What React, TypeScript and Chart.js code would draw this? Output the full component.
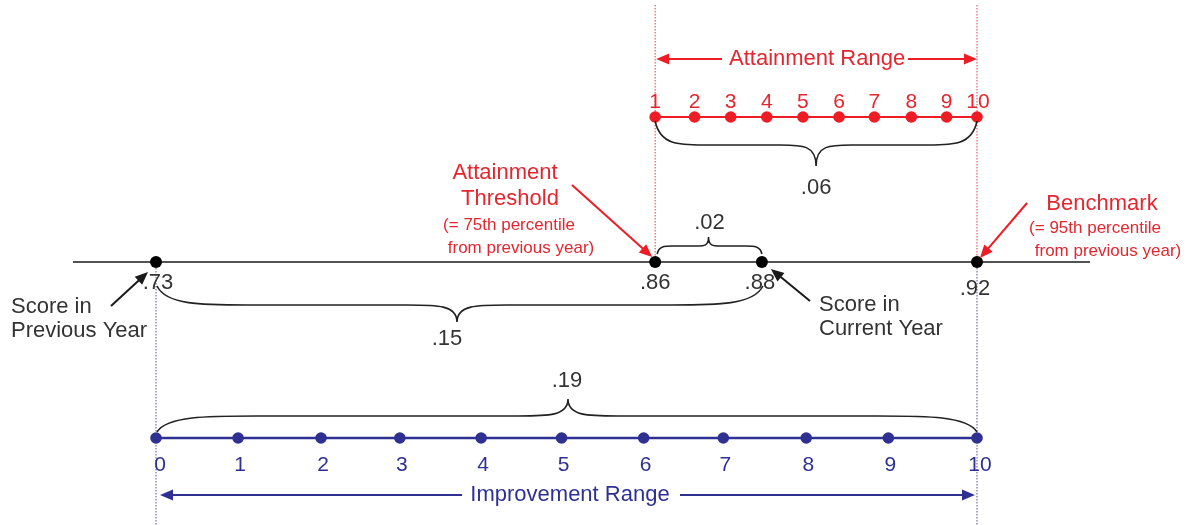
import React, { useEffect, useRef } from "react";
import { Chart, registerables } from "chart.js";

Chart.register(...registerables);

// ---------- data ----------
const scoreLabels = [".73", ".86", ".88", ".92"];
// positions of the scores on the diagram, in improvement-point units
const scorePositions = [0, 6.08, 7.38, 10];

const attainmentLabels = ["1", "2", "3", "4", "5", "6", "7", "8", "9", "10"];
const attainmentPositions = [6.08, 6.56, 7.0, 7.44, 7.88, 8.32, 8.75, 9.2, 9.63, 10];

const improvementLabels = ["0", "1", "2", "3", "4", "5", "6", "7", "8", "9", "10"];
const improvementPositions = [0, 1.0, 2.01, 2.97, 3.96, 4.94, 5.94, 6.91, 7.92, 8.92, 10];

const gapLabels = [".06", ".02", ".15", ".19"];

// ---------- layout / style ----------
const W = 1194;
const H = 525;
const PX0 = 156; // pixel of position 0
const PXU = 82.1; // pixels per unit
const ROW_ATTAIN = 117;
const ROW_MAIN = 262;
const ROW_IMPROVE = 438;
const RED = "#ee1c25";
const RED_TEXT = "#e3262f";
const BLUE = "#2e3192";
const BLACK = "#1a1a1a";
const TEXT = "#333333";
const FONT = "'Liberation Sans', Arial, sans-serif";

const pts = (xs: number[], y: number) => xs.map((x) => ({ x, y }));

export default function App() {
  const ref = useRef<HTMLCanvasElement | null>(null);

  useEffect(() => {
    document.body.style.margin = "0";
    const canvas = ref.current!;

    const annot = {
      id: "annot",
      afterDatasetsDraw(chart: any) {
        const ctx = chart.ctx as CanvasRenderingContext2D;
        const xs = chart.scales.x;
        const ys = chart.scales.y;
        const X = (u: number) => xs.getPixelForValue(u);
        const Y = (v: number) => ys.getPixelForValue(v);

        const text = (t: string, x: number, y: number, color: string, size: number, align: CanvasTextAlign = "center") => {
          ctx.save();
          ctx.font = `${size}px ${FONT}`;
          ctx.fillStyle = color;
          ctx.textAlign = align;
          ctx.textBaseline = "middle";
          ctx.fillText(t, x, y);
          ctx.restore();
        };

        const arrow = (x1: number, y1: number, x2: number, y2: number, color: string, lw: number, head = 13, hw = 5.5) => {
          const ang = Math.atan2(y2 - y1, x2 - x1);
          ctx.save();
          ctx.strokeStyle = color;
          ctx.fillStyle = color;
          ctx.lineWidth = lw;
          ctx.beginPath();
          ctx.moveTo(x1, y1);
          ctx.lineTo(x2 - Math.cos(ang) * head * 0.8, y2 - Math.sin(ang) * head * 0.8);
          ctx.stroke();
          ctx.beginPath();
          ctx.moveTo(x2, y2);
          ctx.lineTo(x2 - Math.cos(ang) * head - Math.sin(ang) * hw, y2 - Math.sin(ang) * head + Math.cos(ang) * hw);
          ctx.lineTo(x2 - Math.cos(ang) * head + Math.sin(ang) * hw, y2 - Math.sin(ang) * head - Math.cos(ang) * hw);
          ctx.closePath();
          ctx.fill();
          ctx.restore();
        };

        const brace = (x1: number, x2: number, e: number, m: number, tx: number, t: number) => {
          ctx.save();
          ctx.strokeStyle = "#222";
          ctx.lineWidth = 1.6;
          const halfL = tx - x1;
          const halfR = x2 - tx;
          const r1L = Math.min(100, halfL * 0.3);
          const r2L = Math.min(50, halfL * 0.22);
          const r1R = Math.min(100, halfR * 0.3);
          const r2R = Math.min(50, halfR * 0.22);
          ctx.beginPath();
          ctx.moveTo(x1, e);
          ctx.bezierCurveTo(x1 + r1L * 0.1, m, x1 + r1L * 0.5, m, x1 + r1L, m);
          ctx.lineTo(tx - r2L, m);
          ctx.bezierCurveTo(tx - r2L * 0.4, m, tx, m, tx, t);
          ctx.bezierCurveTo(tx, m, tx + r2R * 0.4, m, tx + r2R, m);
          ctx.lineTo(x2 - r1R, m);
          ctx.bezierCurveTo(x2 - r1R * 0.5, m, x2 - r1R * 0.1, m, x2, e);
          ctx.stroke();
          ctx.restore();
        };

        // braces
        const a0 = X(attainmentPositions[0]);
        const a9 = X(attainmentPositions[attainmentPositions.length - 1]);
        brace(a0, a9, Y(ROW_ATTAIN) + 4, Y(145), (a0 + a9) / 2, Y(166));
        text(gapLabels[0], (a0 + a9) / 2, Y(188), TEXT, 22);

        const s1 = X(scorePositions[1]);
        const s2 = X(scorePositions[2]);
        brace(s1 + 2, s2, Y(ROW_MAIN) - 8, Y(246), (s1 + s2) / 2, Y(237));
        text(gapLabels[1], (s1 + s2) / 2 + 1, Y(223), TEXT, 22);

        const s0 = X(scorePositions[0]);
        brace(s0 + 1, s2 + 1, Y(ROW_MAIN) + 24, Y(305), 457, Y(322));
        text(gapLabels[2], 447, Y(339), TEXT, 22);

        const i0 = X(improvementPositions[0]);
        const i10 = X(improvementPositions[improvementPositions.length - 1]);
        brace(i0 + 1, i10, Y(ROW_IMPROVE) - 6, Y(416), 568, Y(399));
        text(gapLabels[3], 567, Y(381), TEXT, 22);

        // score labels
        const scoreDx = [2, 0, -2, -2];
        const scoreDy = [283, 283, 283, 289];
        scoreLabels.forEach((l, i) => text(l, X(scorePositions[i]) + scoreDx[i], Y(scoreDy[i]), TEXT, 22));

        // attainment labels
        attainmentLabels.forEach((l, i) => text(l, X(attainmentPositions[i]) + (i === 9 ? 1 : 0), Y(102), RED_TEXT, 21));
        // improvement labels
        improvementLabels.forEach((l, i) => text(l, X(improvementPositions[i]) + (i === 0 ? 4 : i === 10 ? 3 : 2), Y(465), BLUE, 21));

        // range arrows
        text("Attainment Range", (a0 + a9) / 2 + 1, Y(59), RED_TEXT, 22);
        arrow(722, Y(59), a0 + 1, Y(59), RED, 2);
        arrow(908, Y(59), a9, Y(59), RED, 2);

        text("Improvement Range", 570, Y(495), BLUE, 22);
        arrow(462, Y(495), i0 + 4, Y(495), BLUE, 2);
        arrow(680, Y(495), i10 - 2, Y(495), BLUE, 2);

        // attainment threshold annotation
        text("Attainment", 505, Y(173), RED_TEXT, 22);
        text("Threshold", 510, Y(199), RED_TEXT, 22);
        text("(= 75th percentile", 509, Y(225), RED_TEXT, 17);
        text("from previous year)", 521, Y(248), RED_TEXT, 17);
        arrow(572, Y(185), s1 - 3, Y(ROW_MAIN) - 5, RED, 2);

        // benchmark annotation
        const s3 = X(scorePositions[3]);
        text("Benchmark", 1102, Y(204), RED_TEXT, 22);
        text("(= 95th percentile", 1095, Y(228), RED_TEXT, 17);
        text("from previous year)", 1108, Y(251), RED_TEXT, 17);
        arrow(1027, Y(203), s3 + 3, Y(ROW_MAIN) - 4, RED, 2);

        // score annotations
        text("Score in", 11, Y(307), TEXT, 22, "left");
        text("Previous Year", 11, Y(331), TEXT, 22, "left");
        arrow(111, Y(306), s0 - 8, Y(ROW_MAIN) + 10, BLACK, 2);

        text("Score in", 819, Y(305), TEXT, 22, "left");
        text("Current Year", 819, Y(329), TEXT, 22, "left");
        arrow(810, Y(301), s2 + 9, Y(ROW_MAIN) + 7, BLACK, 2);
      },
    };

    const dotted = (x: number, y1: number, y2: number, color: string) => ({
      data: [
        { x, y: y1 },
        { x, y: y2 },
      ],
      showLine: true,
      borderColor: color,
      borderWidth: 1.2,
      borderDash: [1.5, 1.5],
      pointRadius: 0,
      order: 10,
    });

    const chart = new Chart(canvas, {
      type: "scatter",
      data: {
        datasets: [
          dotted(attainmentPositions[0], 5, ROW_MAIN, "#ec5a62"),
          dotted(attainmentPositions[attainmentPositions.length - 1], 5, ROW_MAIN, "#ec5a62"),
          dotted(improvementPositions[0], ROW_MAIN + 6, H, "#7070b0"),
          dotted(improvementPositions[improvementPositions.length - 1], ROW_MAIN + 6, H, "#7070b0"),
          {
            data: pts([(73 - PX0) / PXU, (1090 - PX0) / PXU], ROW_MAIN),
            showLine: true,
            borderColor: BLACK,
            borderWidth: 1.6,
            pointRadius: 0,
            order: 5,
          },
          {
            data: pts(scorePositions, ROW_MAIN),
            showLine: false,
            pointRadius: 6,
            pointBackgroundColor: "#000",
            pointBorderColor: "#000",
            pointBorderWidth: 0,
            order: 1,
          },
          {
            data: pts(attainmentPositions, ROW_ATTAIN),
            showLine: true,
            borderColor: RED,
            borderWidth: 2,
            pointRadius: 5.8,
            pointBackgroundColor: RED,
            pointBorderColor: RED,
            pointBorderWidth: 0,
            order: 1,
          },
          {
            data: pts(improvementPositions, ROW_IMPROVE),
            showLine: true,
            borderColor: BLUE,
            borderWidth: 2.5,
            pointRadius: 5.8,
            pointBackgroundColor: BLUE,
            pointBorderColor: BLUE,
            pointBorderWidth: 0,
            order: 1,
          },
        ],
      },
      options: {
        animation: false,
        responsive: false,
        devicePixelRatio: 1,
        layout: { padding: 0, autoPadding: false },
        plugins: { legend: { display: false }, tooltip: { enabled: false }, title: { display: false } },
        events: [],
        scales: {
          x: { type: "linear", display: false, min: -PX0 / PXU, max: (W - PX0) / PXU },
          y: { type: "linear", display: false, min: 0, max: H, reverse: true },
        },
      } as any,
      plugins: [annot],
    });

    return () => chart.destroy();
  }, []);

  return (
    <div style={{ width: W, height: H, background: "#fff" }}>
      <canvas ref={ref} width={W} height={H} style={{ display: "block" }} />
    </div>
  );
}
